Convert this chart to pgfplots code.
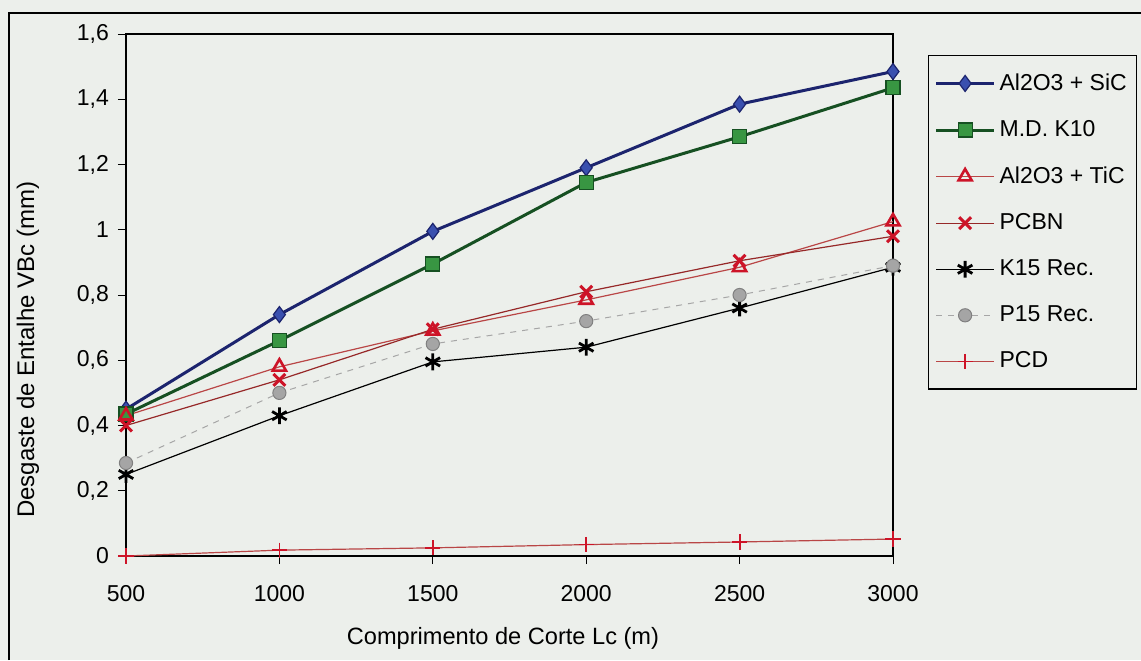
\documentclass[border=0pt]{standalone}
\usepackage{fontspec}
\setmainfont{Liberation Sans}
\usepackage{pgfplots}
\pgfplotsset{compat=1.18}
\definecolor{bg}{RGB}{236,239,235}
\definecolor{navyline}{RGB}{28,36,110}
\definecolor{bluefill}{RGB}{58,80,175}
\definecolor{greenline}{RGB}{22,80,34}
\definecolor{greenfill}{RGB}{56,150,66}
\definecolor{redline}{RGB}{185,70,70}
\definecolor{redmark}{RGB}{205,20,40}
\definecolor{darkred}{RGB}{150,40,40}
\definecolor{grayfill}{RGB}{165,165,165}
\begin{document}
\begin{tikzpicture}
\useasboundingbox (0,0) rectangle (570.5pt,-330pt);
\fill[bg] (0,0) rectangle (570.5pt,-330pt);
\draw[black,line width=0.8pt] (4.5pt,-330pt) -- (4.5pt,-6.5pt) -- (570.5pt,-6.5pt);
\begin{axis}[
  at={(63pt,-278pt)}, anchor=south west,
  scale only axis, width=383.5pt, height=261pt,
  xmin=500, xmax=3000, ymin=0, ymax=1.6,
  xtick={500,1000,1500,2000,2500,3000},
  ytick={0,0.2,0.4,0.6,0.8,1,1.2,1.4,1.6},
  xtick pos=bottom, ytick pos=left,
  tick align=outside, major tick length=4pt,
  tick style={black, line width=0.5pt},
  axis line style={black, line width=1pt},
  clip=false,
  /pgf/number format/assume math mode=true,
  xticklabel style={font=\fontsize{11.5}{13}\selectfont, yshift=-7pt, /pgf/number format/1000 sep={}},
  yticklabel style={font=\fontsize{11.5}{13}\selectfont, xshift=-1pt, /pgf/number format/.cd, fixed, precision=1, use comma, 1000 sep={}},
  xlabel={Comprimento de Corte Lc (m)},
  ylabel={Desgaste de Entalhe VBc (mm)},
  xlabel style={font=\fontsize{11.8}{13}\selectfont, at={(axis description cs:0.4915,-0.1686)}, anchor=base},
  ylabel style={font=\fontsize{12}{13}\selectfont, at={(axis description cs:-0.128,0.395)}, anchor=center},
  legend style={at={(axis description cs:1,1)}, xshift=17.5pt, yshift=-10.5pt, anchor=north west,
    draw=black, line width=0.6pt, fill=none, font=\fontsize{11.5}{13.5}\selectfont,
    row sep=9.6pt, inner xsep=3pt, inner ysep=7pt},
  legend cell align=left,
  legend image code/.code={\draw[mark repeat=2,mark phase=2] plot coordinates {(0pt,0pt)(14.5pt,0pt)(29pt,0pt)};},
]
\addplot[navyline, line width=1.5pt, mark=diamond*, mark size=4pt, mark options={fill=bluefill, draw=navyline, line width=0.6pt}]
  coordinates {(500,0.45)(1000,0.74)(1500,0.995)(2000,1.19)(2500,1.385)(3000,1.485)};
\addlegendentry{Al2O3 + SiC}
\addplot[greenline, line width=1.5pt, mark=square*, mark size=3.5pt, mark options={fill=greenfill, draw=greenline, line width=0.6pt}]
  coordinates {(500,0.435)(1000,0.66)(1500,0.895)(2000,1.145)(2500,1.285)(3000,1.435)};
\addlegendentry{M.D. K10}
\addplot[redline, line width=0.6pt, mark=triangle, mark size=3.8pt, mark options={draw=redmark, line width=1.3pt}]
  coordinates {(500,0.43)(1000,0.58)(1500,0.69)(2000,0.785)(2500,0.885)(3000,1.025)};
\addlegendentry{Al2O3 + TiC}
\addplot[darkred, line width=0.6pt, mark=x, mark size=4.2pt, mark options={draw=redmark, line width=1.5pt}]
  coordinates {(500,0.40)(1000,0.54)(1500,0.695)(2000,0.81)(2500,0.905)(3000,0.98)};
\addlegendentry{PCBN}
\addplot[black, line width=0.6pt, mark=asterisk, mark size=4.2pt, mark options={line width=1.4pt}]
  coordinates {(500,0.25)(1000,0.43)(1500,0.595)(2000,0.64)(2500,0.76)(3000,0.885)};
\addlegendentry{K15 Rec.}
\addplot[gray!70, line width=0.5pt, dashed, mark=*, mark size=3.3pt, mark options={solid, fill=grayfill, draw=gray}]
  coordinates {(500,0.285)(1000,0.50)(1500,0.65)(2000,0.72)(2500,0.80)(3000,0.89)};
\addlegendentry{P15 Rec.}
\addplot[redline, line width=0.6pt, mark=+, mark size=3.8pt, mark options={draw=redmark, line width=0.9pt}]
  coordinates {(500,0.0)(1000,0.018)(1500,0.025)(2000,0.035)(2500,0.043)(3000,0.052)};
\addlegendentry{PCD}
\end{axis}
\end{tikzpicture}
\end{document}
